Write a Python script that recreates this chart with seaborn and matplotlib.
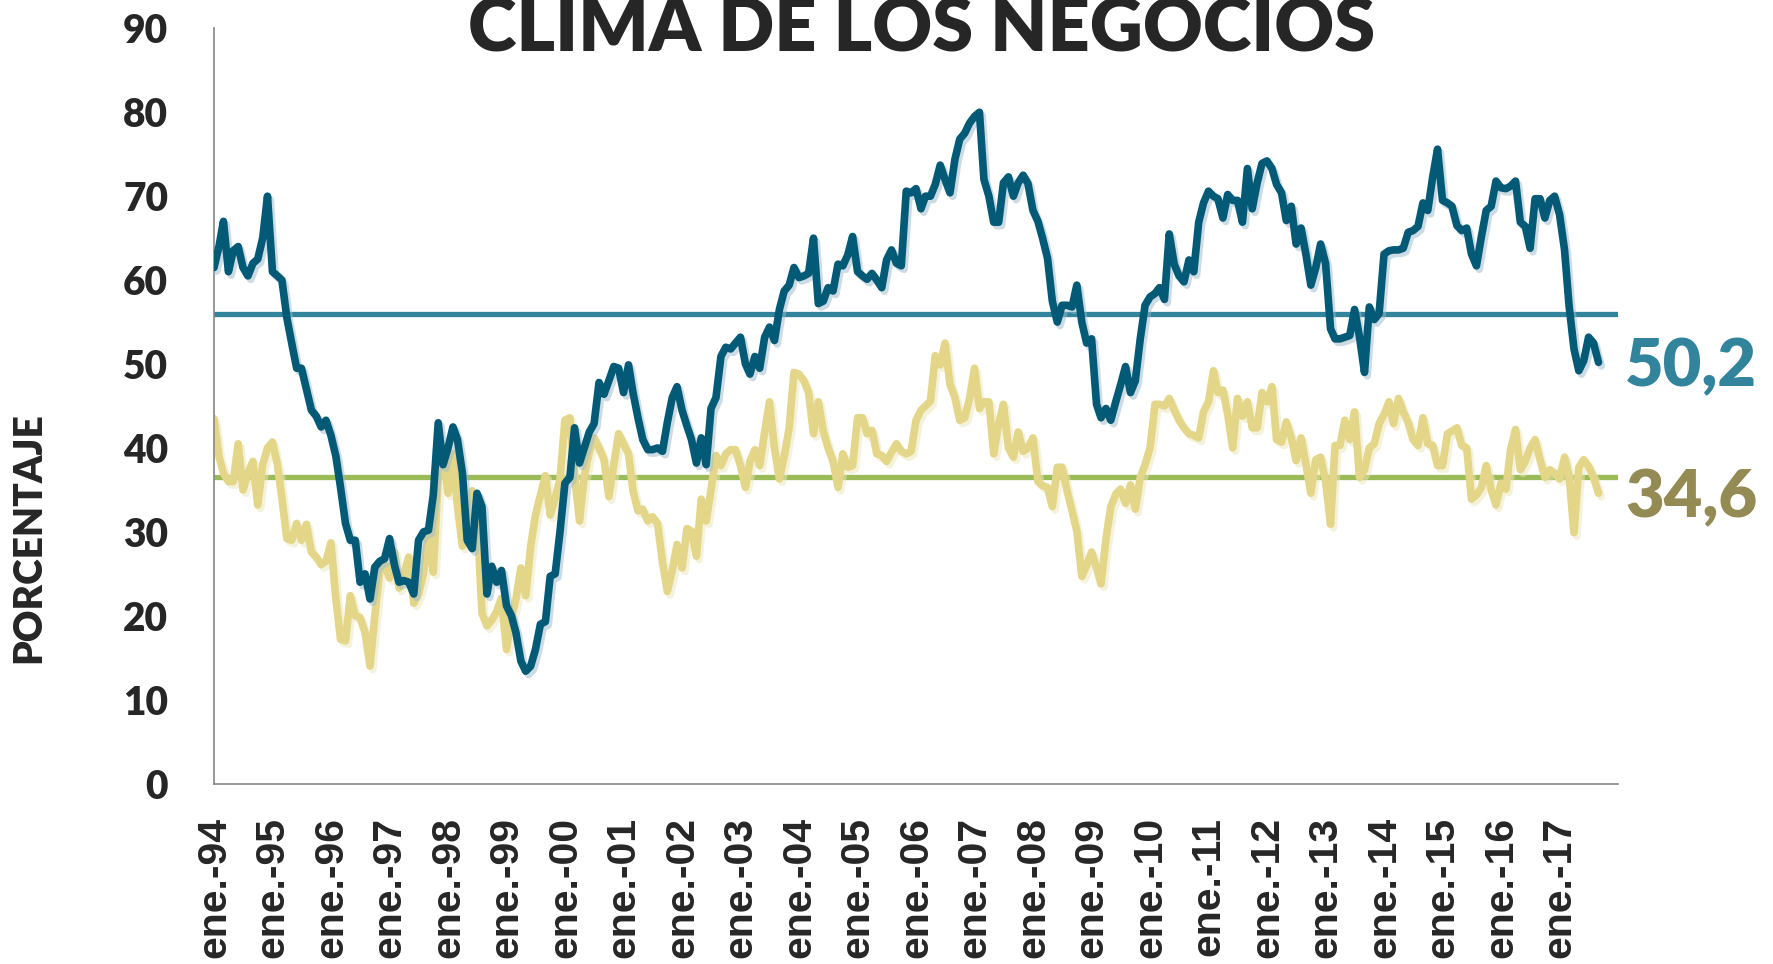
import matplotlib
matplotlib.use("Agg")
import matplotlib.pyplot as plt
import matplotlib.patheffects as pe
import seaborn as sns
import pandas as pd

# Clima de los negocios, serie mensual ene-1994 .. sep-2017
clima = [
    61.5, 64, 67, 61, 63.5, 64, 61.5, 60.5, 62, 62.5, 65, 70,             # 1994
    61, 60.5, 60, 55.5, 52.5, 49.5, 49.5, 47, 44.5, 43.8, 42.5, 43.3,     # 1995
    41.5, 39, 35.3, 31, 29, 29, 24, 25, 22, 25.8, 26.5, 26.8,             # 1996
    29.2, 26, 24, 24.2, 24, 22.6, 29, 30, 30.2, 34.4, 43, 38,             # 1997
    40, 42.5, 41, 37, 29, 28, 34.6, 33, 22.6, 25.9, 24, 25.4,             # 1998
    21.2, 20, 18, 14.6, 13.4, 14, 16, 19, 19.3, 24.7, 25, 30,             # 1999
    35.8, 36.5, 42.4, 38.2, 40, 41.9, 42.9, 47.8, 46.4, 48, 49.7, 49.5,   # 2000
    46.6, 49.9, 46.6, 43.6, 41, 39.8, 39.8, 40, 39.6, 43, 46, 47.3,       # 2001
    44.5, 42.6, 41, 38.2, 41.2, 38, 44.7, 46, 50.9, 52, 51.8, 52.5,       # 2002
    53.2, 50, 48.8, 50.9, 49.5, 53.2, 54.4, 52.8, 56.5, 58.7, 59.4, 61.5, # 2003
    60.3, 60.5, 60.8, 65, 57.2, 57.5, 59.1, 58.7, 61.9, 61.7, 63, 65.2,   # 2004
    61, 60.5, 60.1, 60.8, 60, 59.1, 62.4, 63.6, 62, 61.7, 70.6, 70.4,     # 2005
    70.9, 68.5, 70, 70, 71.4, 73.7, 72, 70.4, 74.4, 76.8, 77.5, 78.7,     # 2006
    79.5, 80, 72, 70, 66.9, 66.9, 71.6, 72.3, 70, 71.6, 72.5, 71.5,       # 2007
    68.3, 67, 65, 62.6, 57.5, 55, 57, 57, 56.8, 59.4, 55, 52.5,           # 2008
    53, 45.2, 43.6, 44.7, 43.3, 45.5, 47.5, 49.7, 46.6, 48, 53, 57,       # 2009
    58, 58.4, 59.1, 57.7, 65.5, 61.9, 60.5, 59.8, 62.4, 61, 66.9, 69.2,   # 2010
    70.6, 70, 69.7, 67.4, 70.2, 69.5, 69.5, 66.9, 73.3, 68.5, 71.6, 73.9, # 2011
    74.2, 73.3, 71.4, 70.4, 67.1, 68.8, 64.3, 66.2, 63, 59.4, 61.5, 64.3, # 2012
    62, 54.2, 53, 53, 53.2, 53.4, 56.5, 53.2, 49, 56.8, 55.3, 56,         # 2013
    63.1, 63.5, 63.6, 63.6, 63.8, 65.7, 65.9, 66.4, 69.2, 68.3, 72.3, 75.6, # 2014
    69.5, 69.2, 68.8, 66.5, 65.9, 66.2, 63.1, 61.7, 65.2, 68.3, 68.8, 71.8, # 2015
    71, 70.9, 71.2, 71.8, 66.9, 66.4, 63.8, 69.7, 69.7, 67.4, 69.5, 70,   # 2016
    67.8, 63.6, 57, 51.8, 49.2, 50.4, 53.2, 52.5, 50.2,                   # 2017
]

# segunda serie (amarilla)
negocios = [
    43.5, 39, 37, 36, 36, 40.5, 35, 37, 38.4, 33.2, 38, 40,               # 1994
    40.7, 38, 34, 29.2, 29, 31, 29, 30.9, 27.6, 27, 26.1, 26.5,           # 1995
    28.7, 22, 17.2, 17, 22.4, 20, 19.8, 18, 14, 20, 25.4, 26.1,           # 1996
    24.5, 27.6, 23.3, 25, 27, 21.5, 22.6, 25, 30, 25.2, 36.7, 39.6,       # 1997
    34.6, 39.3, 33, 28.3, 31.6, 34.9, 32, 20.3, 18.8, 19.5, 20.5, 22.1,   # 1998
    16, 19.8, 22, 25.7, 22.4, 28.3, 32, 34.4, 36.7, 32, 34, 36.3,         # 1999
    43.3, 43.6, 36.7, 31.3, 36.7, 39.5, 41.2, 40, 38.6, 34.2, 38, 41.7,   # 2000
    40.5, 39.3, 34.9, 32.5, 32.7, 31.3, 31.8, 31, 26.4, 22.9, 25.4, 28.5, # 2001
    25.7, 30.4, 30.1, 27.1, 33.9, 31.3, 35, 39.1, 37.9, 39.3, 39.8, 39.8, # 2002
    37.9, 35.3, 38.4, 39.8, 37.9, 41.9, 45.5, 40, 36.3, 39, 42.4, 49,     # 2003
    48.8, 48, 46.6, 41.7, 45.5, 42, 40, 38.4, 35.3, 39.3, 37.7, 37.9,     # 2004
    43.6, 43.6, 41.7, 42.1, 39.3, 39.1, 38.4, 39.5, 40.5, 39.6, 39.3, 39.6, # 2005
    43.3, 44.5, 45, 45.6, 51, 49.9, 52.5, 47.6, 46, 43.3, 43.6, 45.9,     # 2006
    49.5, 44.7, 45.5, 45.5, 39.3, 42.9, 45.2, 40, 38.9, 41.9, 39.6, 40,   # 2007
    41.2, 36, 35.5, 35.3, 33, 37.7, 37.7, 34.9, 32.5, 30.1, 24.7, 26,     # 2008
    27.6, 25.7, 23.8, 29.2, 33, 34.5, 35.1, 33.4, 35.6, 32.7, 36.5, 38,   # 2009
    40, 45.2, 45.2, 45, 45.9, 44.5, 43.3, 42.4, 41.7, 41.5, 41.2, 44.3,   # 2010
    45.5, 49.2, 46.6, 46.9, 44, 40, 45.9, 43.8, 45.5, 42.4, 42.4, 46.6,   # 2011
    45.5, 47.3, 41, 40.7, 43.1, 41.2, 38.5, 41.2, 38, 34.6, 38.6, 38.9,   # 2012
    36, 30.9, 40.3, 40.3, 43.3, 41, 44.3, 36.5, 37.4, 40, 40.5, 42.9,     # 2013
    44, 45.5, 42.9, 45.9, 44.3, 43, 41, 40.3, 43.6, 40.5, 40.3, 37.9,     # 2014
    37.9, 41.7, 42, 42.4, 40.3, 40, 33.9, 34.4, 35.3, 37.9, 35, 33.2,     # 2015
    35.8, 35.1, 39.8, 42.2, 37.4, 38.4, 40, 41, 38.6, 36.5, 37.4, 37,     # 2016
    36.3, 38.9, 36.7, 29.9, 37.7, 38.6, 37.8, 36.5, 34.6,                 # 2017
]

promedio_clima = 56.0
promedio_negocios = 36.5

anios = list(range(1994, 2019))
etiquetas_x = [f"ene.-{a % 100:02d}" for a in anios[:-1]] + [""]
ticks_y = [0, 10, 20, 30, 40, 50, 60, 70, 80, 90]

fechas = pd.date_range("1994-01-01", periods=len(clima), freq="MS")
df = pd.DataFrame({"fecha": fechas, "clima": clima, "negocios": negocios})

sns.set_style("white")
plt.rcParams["font.family"] = ["Lato", "DejaVu Sans"]

fig = plt.figure(figsize=(17.73, 9.64), dpi=100)
ax = fig.add_axes([0.1207, 0.1871, 0.7919, 0.7835])

c_clima = "#035A76"
c_neg = "#E4D688"

ax.axhline(promedio_clima, color="#31849B", lw=3.8, solid_capstyle="round", zorder=1)
ax.axhline(promedio_negocios, color="#9BBB59", lw=3.8, solid_capstyle="round", zorder=1)

sns.lineplot(data=df, x="fecha", y="negocios", ax=ax, color=c_neg, lw=5.5, zorder=2,
             path_effects=[pe.SimpleLineShadow(offset=(2, -2.5), shadow_color="#EDE6B8", alpha=0.5),
                           pe.Normal()])
sns.lineplot(data=df, x="fecha", y="clima", ax=ax, color=c_clima, lw=5.5, zorder=3,
             path_effects=[pe.SimpleLineShadow(offset=(2, -2.5), shadow_color="#9CBBCB", alpha=0.5),
                           pe.Normal()])

ax.set_xlim(pd.Timestamp("1994-01-01"), pd.Timestamp("2018-01-01"))
ax.set_ylim(0, 90)
ax.set_xticks([pd.Timestamp(f"{a}-01-01") for a in anios])
ax.set_xticklabels(etiquetas_x, rotation=90, fontsize=29.5, fontweight="bold",
                   family=["Liberation Sans", "DejaVu Sans"])
ax.set_yticks(ticks_y)
ax.set_yticklabels([str(t) for t in ticks_y], fontsize=28, fontweight="heavy")
ax.set_xlabel("")
ax.set_ylabel("")

for s in ["top", "right"]:
    ax.spines[s].set_visible(False)
for s in ["left", "bottom"]:
    ax.spines[s].set_color("#868686")
    ax.spines[s].set_linewidth(1.2)
ax.tick_params(axis="x", direction="out", length=11, width=1, color="#868686", pad=13)
ax.tick_params(axis="y", direction="out", length=11, width=1, color="#868686", pad=22)

# valores finales
ax.annotate(f"{clima[-1]:.1f}".replace(".", ","), xy=(fechas[-1], clima[-1]),
            xytext=(19, -17), textcoords="offset points", ha="left", va="baseline",
            fontsize=48, fontweight="heavy", color="#31849B", annotation_clip=False)
ax.annotate(f"{negocios[-1]:.1f}".replace(".", ","), xy=(fechas[-1], negocios[-1]),
            xytext=(19, -17), textcoords="offset points", ha="left", va="baseline",
            fontsize=48, fontweight="heavy", color="#948A54", annotation_clip=False)

fig.text(0.52, 1 - 51 / 964, "CLIMA DE LOS NEGOCIOS", ha="center", va="baseline",
         fontsize=53, fontweight="heavy")
fig.text(29 / 1773, 1 - 538 / 964, "PORCENTAJE", rotation=90, ha="center", va="center",
         fontsize=28, fontweight="heavy")

fig.savefig("out.png", dpi=100, facecolor="white")
